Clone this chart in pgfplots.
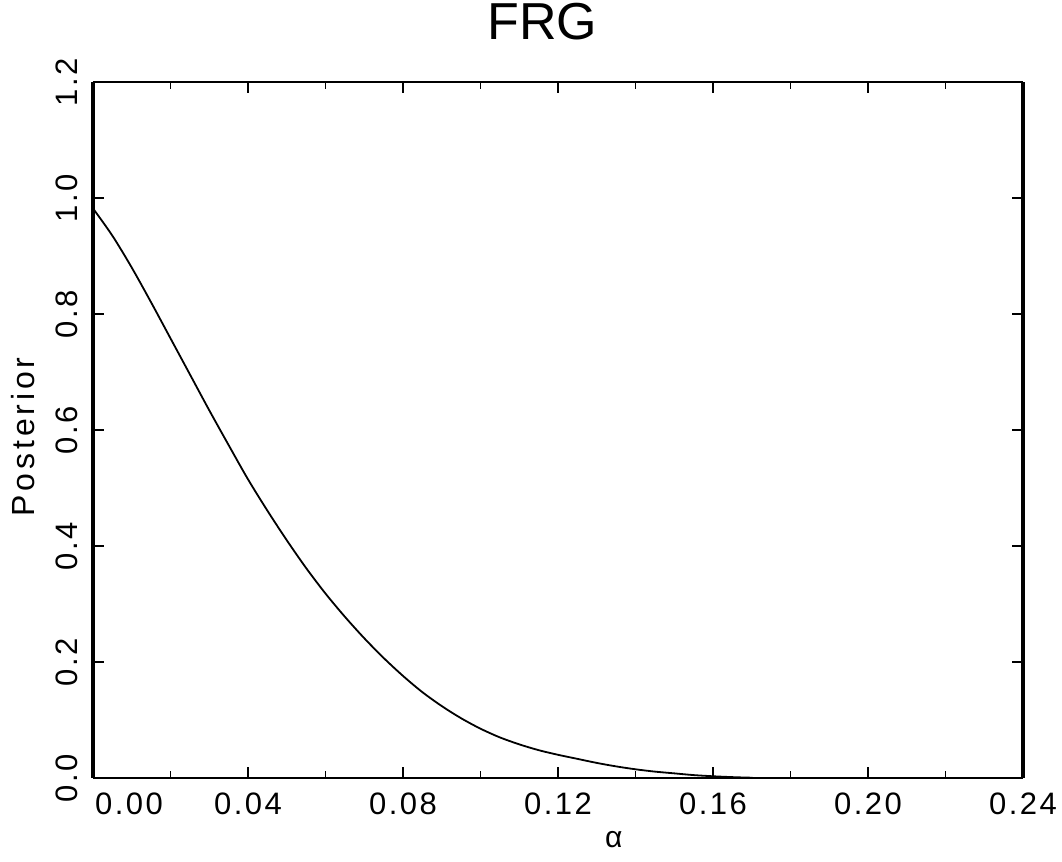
\documentclass[border=0pt]{standalone}
\usepackage{fontspec}
\setmainfont[LetterSpace=8]{Liberation Sans}
\newfontfamily\titlefont{Liberation Sans}
\usepackage{pgfplots}
\pgfplotsset{compat=1.18}
\pgfplotstableread{
x y
0.000 0.982
0.005 0.935
0.010 0.880
0.015 0.820
0.020 0.758
0.025 0.696
0.030 0.634
0.035 0.574
0.040 0.515
0.045 0.461
0.050 0.410
0.055 0.362
0.060 0.318
0.065 0.278
0.070 0.241
0.075 0.207
0.080 0.176
0.085 0.148
0.090 0.124
0.095 0.103
0.100 0.085
0.105 0.070
0.110 0.058
0.115 0.048
0.120 0.040
0.125 0.033
0.130 0.026
0.135 0.020
0.140 0.015
0.145 0.011
0.150 0.008
0.155 0.005
0.160 0.003
0.165 0.0015
0.170 0.0005
0.175 0.0
0.235 0.0
}\posterior
\begin{document}
\begin{tikzpicture}
\useasboundingbox (-46.5pt,-42pt) rectangle (484.5pt,389pt);
\begin{axis}[
  at={(0,0)}, anchor=south west,
  scale only axis, width=465pt, height=348pt,
  xmin=0, xmax=0.24, ymin=0, ymax=1.2,
  xtick={0,0.04,0.08,0.12,0.16,0.20,0.24},
  xticklabels={{\hspace*{36pt}0.00},0.04,0.08,0.12,0.16,0.20,0.24},
  ytick={0,0.2,0.4,0.6,0.8,1.0,1.2},
  yticklabels={0.0,0.2,0.4,0.6,0.8,1.0,1.2},
  minor x tick num=1,
  tick align=inside,
  major tick length=5.5pt, minor tick length=3.5pt,
  tick style={black, line width=0.9pt},
  separate axis lines,
  x axis line style={line width=1pt},
  y axis line style={line width=1.8pt},
  xticklabel style={font=\fontsize{15.5}{18}\selectfont, yshift=-4pt},
  yticklabel style={font=\fontsize{15.5}{18}\selectfont, xshift=-4pt, rotate=90, anchor=south},
  title={FRG},
  title style={at={(axis description cs:0.483,1)}, anchor=base, yshift=15pt, font=\titlefont\fontsize{26}{30}\selectfont},
  ylabel={Posterior},
  ylabel style={at={(axis description cs:-0.0624,0.49)}, anchor=base, font=\fontsize{16}{19}\selectfont\addfontfeature{LetterSpace=12}},
  xlabel={α},
  xlabel style={at={(axis description cs:0.56,0)}, anchor=center, yshift=-31pt, font=\fontsize{15}{18}\selectfont},
]
\addplot[black, line width=0.9pt, smooth] table[x=x, y=y] {\posterior};
\end{axis}
\end{tikzpicture}
\end{document}
